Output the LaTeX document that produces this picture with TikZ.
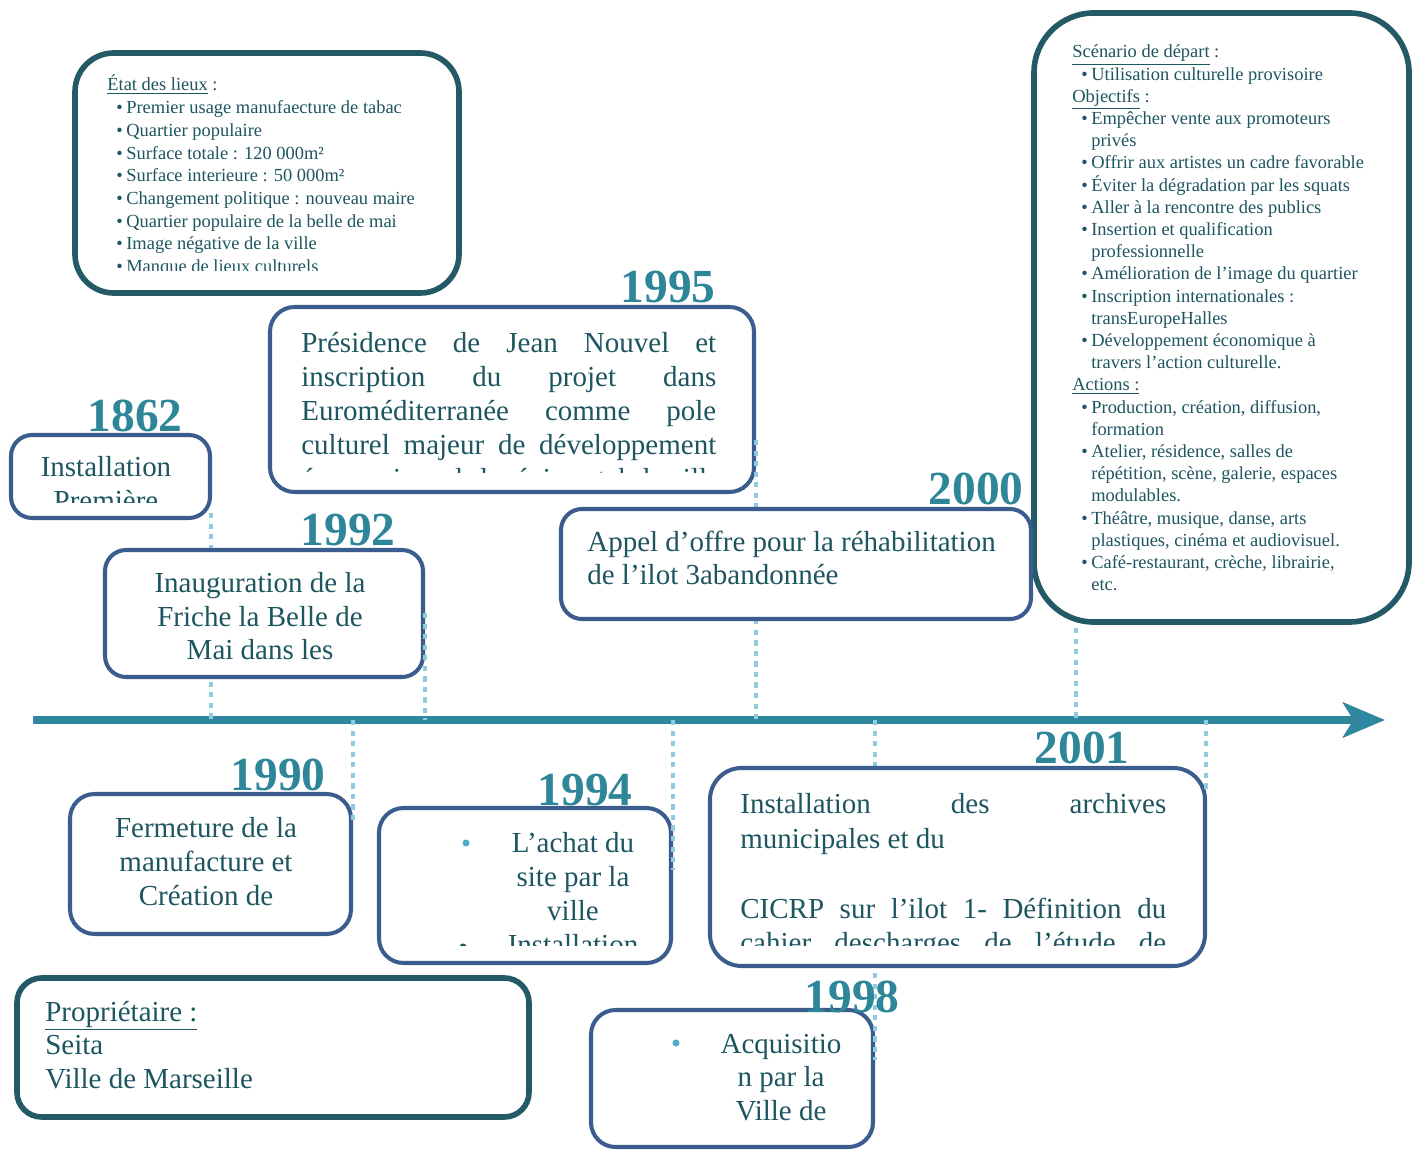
\documentclass[tikz,border=0pt]{standalone}
\usepackage{fontspec}
\setmainfont{Liberation Serif}
\usetikzlibrary{arrows.meta,fit}

\definecolor{boxblue}{HTML}{3A5D8D}
\definecolor{infoteal}{HTML}{235A66}
\definecolor{txtteal}{HTML}{1D5560}
\definecolor{yearteal}{HTML}{2E8699}
\definecolor{axisteal}{HTML}{2F87A0}
\definecolor{guideblue}{HTML}{8FCCE0}
\definecolor{dotblue}{HTML}{4BACC6}

\newcommand\bul{\makebox[0pt][r]{\textbullet\kern2pt}}

\tikzset{
  tlbox/.style={draw=boxblue, line width=2.3pt, rounded corners=12pt, fill=white, inner sep=0pt},
  infobox/.style={draw=infoteal, line width=3.2pt, fill=white, inner sep=0pt},
  yearlbl/.style={text=yearteal, font=\fontsize{27}{30}\selectfont\bfseries, anchor=base east, inner sep=0pt},
  boxtxt/.style={text=txtteal, font=\fontsize{16.5}{19}\selectfont, inner sep=0pt, anchor=base},
  boxtxtl/.style={boxtxt, anchor=base west},
  smalltxt/.style={text=txtteal, font=\fontsize{10.5}{12.6}\selectfont, inner sep=0pt, anchor=base west},
  guide/.style={draw=guideblue, line width=2.3pt, dash pattern=on 3pt off 3pt},
  bulletdot/.style={circle, inner sep=0pt, minimum size=4pt},
}

\begin{document}
\begin{tikzpicture}[x=0.02cm, y=-0.02cm]
\useasboundingbox (0,0) rectangle (1413,1151);

% time axis
\coordinate (tstart) at (33,720);
\coordinate (tend) at (1385,720);
\draw[axisteal, line width=4pt, -{Stealth[length=24pt, width=20pt, inset=6pt]}] (tstart) -- (tend);

% etat des lieux
\node[infobox, rounded corners=22pt, fit={(75,53) (459,293)}] (etat) {};
\begin{scope}
  \clip (75,53) rectangle (459,271);
  \node[smalltxt] (etathead) at (107,91) {\underline{État des lieux} :};
  \foreach \entry [count=\i] in {Premier usage manufaecture de tabac, Quartier populaire,
      Surface totale : 120 000m², Surface interieure : 50 000m², Changement politique : nouveau maire,
      Quartier populaire de la belle de mai, Image négative de la ville, Manque de lieux culturels}
    \node[smalltxt] (etat\i) at (126,{91+22.7*\i}) {\bul\entry};
\end{scope}

% scenario / objectifs / actions
\node[infobox, rounded corners=34pt, fit={(1034,13) (1409,622)}] (scen) {};
\foreach \tx/\entry [count=\i] in {1072/{\underline{Scénario de départ} :},
    1091/{\bul Utilisation culturelle provisoire},
    1072/{\underline{Objectifs} :},
    1091/{\bul Empêcher vente aux promoteurs}, 1091/{privés},
    1091/{\bul Offrir aux artistes un cadre favorable},
    1091/{\bul Éviter la dégradation par les squats},
    1091/{\bul Aller à la rencontre des publics},
    1091/{\bul Insertion et qualification}, 1091/{professionnelle},
    1091/{\bul Amélioration de l’image du quartier},
    1091/{\bul Inscription internationales :}, 1091/{transEuropeHalles},
    1091/{\bul Développement économique à}, 1091/{travers l’action culturelle.},
    1072/{\underline{Actions :}},
    1091/{\bul Production, création, diffusion,}, 1091/{formation},
    1091/{\bul Atelier, résidence, salles de}, 1091/{répétition, scène, galerie, espaces}, 1091/{modulables.},
    1091/{\bul Théâtre, musique, danse, arts}, 1091/{plastiques, cinéma et audiovisuel.},
    1091/{\bul Café-restaurant, crèche, librairie,}, 1091/{etc.}}
  \node[smalltxt] (scen\i) at (\tx,{58+22.2*(\i-1)}) {\entry};

% proprietaire
\node[infobox, rounded corners=14pt, fit={(17,978) (529,1117)}] (proprio) {};
\node[boxtxtl] (proprio1) at (45,1021) {\underline{Propriétaire :}};
\node[boxtxtl] (proprio2) at (45,1054) {Seita};
\node[boxtxtl] (proprio3) at (45,1088) {Ville de Marseille};

% 1862
\node[tlbox, fit={(11,435) (210,518)}] (b1862) {};
\begin{scope}
  \clip (11,435) rectangle (210,503);
  \node[boxtxt] (t1862a) at (106,477) {Installation};
  \node[boxtxt] (t1862b) at (106,511) {Première};
\end{scope}
\coordinate (g1862) at (211,513);
\draw[guide] (g1862) -- (g1862 |- tstart);

% 1992
\node[tlbox, fit={(105,550) (423,677)}] (b1992) {};
\begin{scope}
  \clip (105,550) rectangle (423,662);
  \foreach \entry [count=\i] in {Inauguration de la, Friche la Belle de, Mai dans les}
    \node[boxtxt] (t1992\i) at (260,{593+33.5*(\i-1)}) {\entry};
\end{scope}
\coordinate (g1992) at (425,613);
\draw[guide] (g1992) -- (g1992 |- tstart);

% 1995
\node[tlbox, rounded corners=14pt, fit={(270,307) (754,492)}] (b1995) {};
\begin{scope}
  \clip (270,307) rectangle (754,473);
  \foreach \entry [count=\i] in {Présidence de Jean Nouvel et, inscription du projet dans,
      Euroméditerranée comme pole, culturel majeur de développement,
      économique de la région et de la ville}
    \node[boxtxtl] (t1995\i) at (301,{353+34*(\i-1)}) {\makebox[8.3cm][s]{\entry}};
\end{scope}
\coordinate (g1995) at (756,440);
\draw[guide] (g1995) -- (g1995 |- tstart);

% 2000
\node[tlbox, fit={(561,509) (1031,619)}] (b2000) {};
\node[boxtxtl] (t2000a) at (587,552) {Appel d’offre pour la réhabilitation};
\node[boxtxtl] (t2000b) at (587,585) {de l’ilot 3abandonnée};

\coordinate (gscen) at (1076,628);
\draw[guide] (gscen) -- (gscen |- tstart);

% 1990
\node[tlbox, rounded corners=14pt, fit={(70,794) (351,934)}] (b1990) {};
\foreach \entry [count=\i] in {Fermeture de la, manufacture et, Création de}
  \node[boxtxt] (t1990\i) at (206,{837+34*(\i-1)}) {\entry};
\coordinate (g1990) at (353,820);
\draw[guide] (g1990 |- tstart) -- (g1990);

% 1994
\node[tlbox, rounded corners=14pt, fit={(379,808) (671,963)}] (b1994) {};
\begin{scope}
  \clip (379,808) rectangle (671,945);
  \node[bulletdot, fill=dotblue] (d1994a) at (466,843) {};
  \node[bulletdot, fill=txtteal] (d1994b) at (463,947) {};
  \foreach \entry [count=\i] in {L’achat du, site par la, ville, Installation}
    \node[boxtxt] (t1994\i) at (573,{852+34*(\i-1)}) {\entry};
\end{scope}
\coordinate (g1994) at (673,870);
\draw[guide] (g1994 |- tstart) -- (g1994);

% 1998
\node[tlbox, rounded corners=14pt, fit={(591,1010) (873,1147)}] (b1998) {};
\node[bulletdot, fill=dotblue] (d1998) at (676,1043) {};
\foreach \entry [count=\i] in {Acquisitio, n par la, Ville de}
  \node[boxtxt] (t1998\i) at (781,{1053+33.5*(\i-1)}) {\entry};
\coordinate (g1998) at (875,1060);
\draw[guide] (g1998 |- tstart) -- (g1998);

% 2001
\node[tlbox, rounded corners=18pt, fit={(710,768) (1205,966)}] (b2001) {};
\begin{scope}
  \clip (710,768) rectangle (1205,945);
  \node[boxtxtl] (t2001a) at (740,813) {\makebox[8.52cm][s]{Installation des archives}};
  \node[boxtxtl] (t2001b) at (740,848) {municipales et du};
  \node[boxtxtl] (t2001c) at (740,918) {\makebox[8.52cm][s]{CICRP sur l’ilot 1- Définition du}};
  \node[boxtxtl] (t2001d) at (740,952) {\makebox[8.52cm][s]{cahier descharges de l’étude de}};
\end{scope}
\coordinate (g2001) at (1206,790);
\draw[guide] (g2001 |- tstart) -- (g2001);

% years
\foreach \yr/\yx/\yy in {1862/183/432, 1992/396/546, 1995/716/303, 2000/1024/505,
    1990/326/790, 1994/633/805, 2001/1130/763, 1998/900/1012}
  \node[yearlbl] (y\yr) at (\yx,\yy) {\yr};

\end{tikzpicture}
\end{document}
